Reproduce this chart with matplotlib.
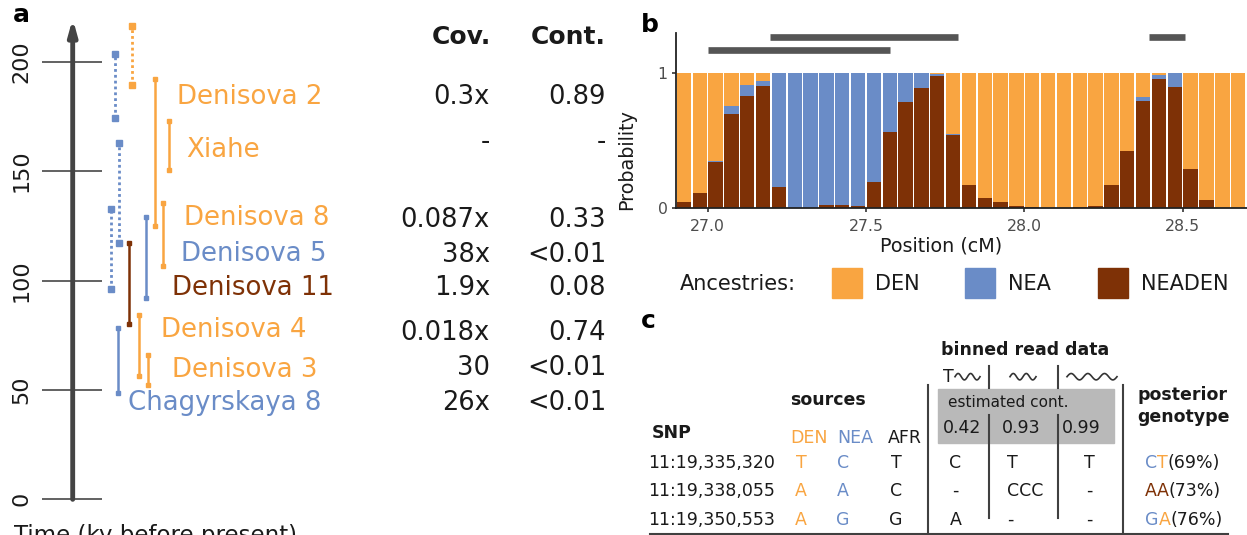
import numpy as np
import matplotlib
matplotlib.use('Agg')
import matplotlib.pyplot as plt
from matplotlib.patches import Rectangle

plt.rcParams['font.family'] = 'DejaVu Sans'

W, H = 1247, 535

anc_colors = {'DEN': '#f9a541', 'NEA': '#6a8cc7', 'NEADEN': '#7e3106'}
ink = '#1a1a1a'

# ---------------- panel a data: sample ages (ky before present) ----------------
samples = ['Denisova 2', 'Xiahe', 'Denisova 8', 'Denisova 5', 'Denisova 11',
           'Denisova 4', 'Denisova 3', 'Chagyrskaya 8']
sample_anc = ['DEN', 'DEN', 'DEN', 'NEA', 'NEADEN', 'DEN', 'DEN', 'NEA']
age_hi = [192.1, 172.9, 135.6, 129.2, 117.3, 84.1, 65.9, 78.5]
age_lo = [125.1, 150.5, 106.8, 91.9, 80.2, 56.4, 52.1, 48.5]
coverage = ['0.3x', '-', '0.087x', '38x', '1.9x', '0.018x', '30', '26x']
contamination = ['0.89', '-', '0.33', '<0.01', '0.08', '0.74', '<0.01', '<0.01']

# dotted ranges
unc_anc = ['DEN', 'NEA', 'NEA', 'NEA']
unc_hi = [216.5, 203.5, 163.0, 132.5]
unc_lo = [189.4, 174.5, 117.0, 96.0]

time_ticks = [0, 50, 100, 150, 200]

# layout for panel a (x in pixels, y in ky)
solid_x = [155.3, 168.5, 163.0, 145.7, 128.7, 138.7, 148.3, 118.3]
dotted_x = [132.3, 115.0, 119.3, 110.7]
label_x = [177.4, 186.0, 184.2, 180.8, 171.6, 161.0, 171.6, 128.0]
label_y = [183.8, 159.6, 128.4, 112.0, 96.5, 77.3, 59.0, 43.8]
row_y = [184.0, 163.5, 127.7, 111.6, 96.5, 76.0, 59.9, 43.9]

# ---------------- panel b data: local ancestry posterior ----------------
bin_mid = np.arange(26.925, 28.7, 0.05)
p_neaden = np.array([0.047, 0.112, 0.343, 0.699, 0.828, 0.905, 0.159, 0.005, 0.005,
                     0.027, 0.022, 0.020, 0.197, 0.567, 0.786, 0.893, 0.978, 0.540,
                     0.172, 0.077, 0.045, 0.017, 0.010, 0.005, 0.005, 0.010, 0.020,
                     0.169, 0.424, 0.794, 0.958, 0.896, 0.290, 0.062, 0.003, 0.000])
p_nea = np.array([0.0, 0.0, 0.005, 0.060, 0.082, 0.038, 0.841, 0.995, 0.995,
                  0.973, 0.978, 0.980, 0.803, 0.433, 0.214, 0.107, 0.018, 0.012,
                  0.0, 0.0, 0.0, 0.0, 0.0, 0.0, 0.0, 0.0, 0.0,
                  0.0, 0.0, 0.032, 0.030, 0.104, 0.0, 0.0, 0.0, 0.0])
p_den = 1 - p_neaden - p_nea

run_start = [27.0, 27.197, 28.395]
run_end = [27.577, 27.792, 28.508]
run_row = [0, 1, 1]

# ---------------- panel c data: genotype example ----------------
snps = ['11:19,335,320', '11:19,338,055', '11:19,350,553']
den_allele = ['T', 'A', 'A']
nea_allele = ['C', 'A', 'G']
afr_allele = ['T', 'C', 'G']
bin_reads = [['C', '-', 'A'], ['T', 'CCC', '-'], ['T', '-', '-']]
est_cont = ['0.42', '0.93', '0.99']
geno = [('C', 'T'), ('A', 'A'), ('G', 'A')]
geno_post = [69, 73, 76]

fig = plt.figure(figsize=(W / 100, H / 100), dpi=100)

# ---------------- panel a ----------------
ax_a = fig.add_axes([0, 0, 620 / W, 1])
ax_a.set_xlim(0, 620)
ax_a.set_ylim(-16.3, 228.2)
ax_a.axis('off')

ax_a.hlines(time_ticks, 41.6, 101.7, color='#555555', lw=1.3)
for t in time_ticks:
    ax_a.text(21.5, t, str(t), rotation=90, ha='center', va='center',
              fontsize=16, color=ink)
ax_a.annotate('', xy=(72.7, 219.7), xytext=(72.7, 0),
              arrowprops=dict(arrowstyle='-|>,head_length=0.9,head_width=0.25',
                              lw=3.5, color='#444444', shrinkA=0, shrinkB=0))
# axis title sits at the lower edge of the canvas
ax_a.text(14, -19.6, 'Time (ky before present)', fontsize=16.5, va='baseline',
          color=ink)

for x, lo, hi, anc in zip(dotted_x, unc_lo, unc_hi, unc_anc):
    ax_a.plot([x, x], [lo, hi], color=anc_colors[anc], lw=2,
              linestyle=(0, (1, 1.1)), marker='s', ms=4.2)
for x, lo, hi, anc in zip(solid_x, age_lo, age_hi, sample_anc):
    ax_a.plot([x, x], [lo, hi], color=anc_colors[anc], lw=1.8,
              marker='s', ms=3)
for name, anc, lx, ly in zip(samples, sample_anc, label_x, label_y):
    ax_a.text(lx, ly, name, color=anc_colors[anc], fontsize=18.7, va='center')

ax_a.text(491, 211.2, 'Cov.', fontsize=18, fontweight='bold', ha='right',
          va='center', color=ink)
ax_a.text(606, 211.2, 'Cont.', fontsize=18, fontweight='bold', ha='right',
          va='center', color=ink)
for cv, ct, ry in zip(coverage, contamination, row_y):
    ax_a.text(490, ry, cv, fontsize=18.5, ha='right', va='center', color=ink)
    ax_a.text(606, ry, ct, fontsize=18.5, ha='right', va='center', color=ink)

# ---------------- panel b ----------------
ax_b = fig.add_axes([676 / W, 1 - 208.3 / H, (W - 676) / W, (208.3 - 33.3) / H])
bw = 0.0455
ax_b.bar(bin_mid, p_neaden, width=bw, color=anc_colors['NEADEN'], lw=0)
ax_b.bar(bin_mid, p_nea, bottom=p_neaden, width=bw, color=anc_colors['NEA'], lw=0)
ax_b.bar(bin_mid, p_den, bottom=p_neaden + p_nea, width=bw,
         color=anc_colors['DEN'], lw=0)
run_level = [1.176, 1.271]
ax_b.hlines([run_level[r] for r in run_row], run_start, run_end,
            color='#555555', lw=4.8, capstyle='butt', clip_on=False)

ax_b.set_xlim(26.9, 28.703)
ax_b.set_ylim(0, 1.296)
for s in ['top', 'right']:
    ax_b.spines[s].set_visible(False)
for s in ['left', 'bottom']:
    ax_b.spines[s].set_color('#222222')
    ax_b.spines[s].set_linewidth(1.3)
ax_b.set_xticks([27.0, 27.5, 28.0, 28.5])
ax_b.set_xticklabels(['27.0', '27.5', '28.0', '28.5'])
ax_b.set_yticks([0, 1])
ax_b.set_yticklabels(['0', '1'])
ax_b.tick_params(length=3, width=1.2, color='#333333', labelcolor='#4d4d4d',
                 labelsize=11.3, pad=3)
ax_b.tick_params(axis='x', pad=5)
ax_b.text(-0.0863, 0.276, 'Probability', rotation=90, ha='center', va='center',
          fontsize=13.8, color=ink, transform=ax_b.transAxes)
ax_b.text(0.464, -0.215, 'Position (cM)', ha='center', va='center',
          fontsize=13.8, color=ink, transform=ax_b.transAxes)

# ---------------- overlay: panel letters, legend, panel c ----------------
ov = fig.add_axes([0, 0, 1, 1])
ov.set_xlim(0, W)
ov.set_ylim(H, 0)
ov.axis('off')

for lbl, lx, ly in [('a', 13, 15), ('b', 641, 25), ('c', 641, 321)]:
    ov.text(lx, ly, lbl, fontsize=18, fontweight='bold', va='center', color='black')

# legend
ov.text(680, 283.5, 'Ancestries:', fontsize=15, va='center', color=ink)
for anc, bx in zip(['DEN', 'NEA', 'NEADEN'], [831.6, 964.6, 1097.7]):
    ov.add_patch(Rectangle((bx, 268), 30, 30, color=anc_colors[anc]))
    ov.text(bx + 43, 283.5, anc, fontsize=15, va='center', color=ink)

fs = 12.5
line_col = '#404040'
ov.text(1025.5, 350, 'binned read data', fontsize=fs, fontweight='bold',
        ha='center', va='center', color=ink)
ov.text(790, 400, 'sources', fontsize=fs, fontweight='bold', va='center', color=ink)
ov.text(1137.5, 406, 'posterior\ngenotype', fontsize=fs, fontweight='bold',
        va='center', linespacing=1.25, color=ink)
ov.text(652, 433, 'SNP', fontsize=fs, fontweight='bold', va='center', color=ink)
for name, hx, c in [('DEN', 790, anc_colors['DEN']), ('NEA', 837.5, anc_colors['NEA']),
                    ('AFR', 888, ink)]:
    ov.text(hx, 438, name, fontsize=fs, va='center', color=c)

# estimated contamination box
ov.add_patch(Rectangle((937.7, 389), 176.6, 54.3, color='#b9b9b9', zorder=1))
ov.text(947.7, 402.7, 'estimated cont.', fontsize=11, va='center', color=ink, zorder=3)
for val, cx in zip(est_cont, [943.3, 1001.7, 1062.3]):
    ov.text(cx, 427.7, val, fontsize=fs, va='center', color=ink, zorder=3)

# table rules
ov.plot([927.7, 927.7], [385, 534], color=line_col, lw=1.5, zorder=2)
ov.plot([1122.7, 1122.7], [385, 534], color=line_col, lw=1.5, zorder=2)
for lx in [989.3, 1057.7]:
    ov.plot([lx, lx], [366, 388], color=line_col, lw=1.5, zorder=2)
    ov.plot([lx, lx], [415, 518], color=line_col, lw=1.5, zorder=2)
ov.plot([650, 1228], [534, 534], color=line_col, lw=1.5, zorder=2)

# read glyphs above each bin
ov.text(943, 376.7, 'T', fontsize=fs, va='center', color=ink)
for x0, x1, n in [(955, 980, 2), (1010, 1036, 2), (1067, 1117, 3)]:
    t = np.linspace(0, 1, 80)
    ov.plot(x0 + (x1 - x0) * t, 376.7 - 3.2 * np.sin(2 * np.pi * n * t),
            color='#333333', lw=1.2)

row_ys = [462.7, 490.7, 520]
for i, ry in enumerate(row_ys):
    ov.text(648, ry, snps[i], fontsize=fs, va='center', color=ink)
    ov.text(801, ry, den_allele[i], fontsize=fs, ha='center', va='center',
            color=anc_colors['DEN'])
    ov.text(843, ry, nea_allele[i], fontsize=fs, ha='center', va='center',
            color=anc_colors['NEA'])
    ov.text(896, ry, afr_allele[i], fontsize=fs, ha='center', va='center', color=ink)
    ov.text(955.5, ry, bin_reads[0][i], fontsize=fs, ha='center', va='center', color=ink)
    ov.text(1007.3, ry, bin_reads[1][i], fontsize=fs, ha='left', va='center', color=ink)
    ov.text(1089, ry, bin_reads[2][i], fontsize=fs, ha='center', va='center', color=ink)

    # posterior genotype, alleles coloured by source
    pieces = []
    for a in geno[i]:
        if a == den_allele[i] and a == nea_allele[i]:
            pieces.append((a, anc_colors['NEADEN']))
        elif a == nea_allele[i]:
            pieces.append((a, anc_colors['NEA']))
        else:
            pieces.append((a, anc_colors['DEN']))
    pieces.append(('(%d%%)' % geno_post[i], ink))
    prev = ov.text(1145, ry, pieces[0][0], fontsize=fs, va='center', color=pieces[0][1])
    for s, c in pieces[1:]:
        prev = ov.annotate(s, xy=(1, 0), xycoords=prev, va='bottom', ha='left',
                           fontsize=fs, color=c)

fig.savefig('out.png', dpi=100)
